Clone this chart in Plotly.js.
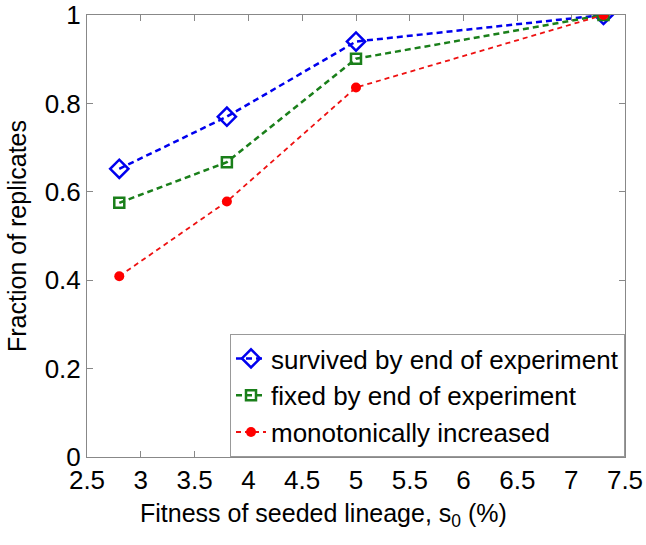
<!DOCTYPE html>
<html>
<head>
<meta charset="utf-8">
<script src="https://cdn.plot.ly/plotly-3.0.1.min.js"></script>
<style>html,body{margin:0;padding:0;background:#fff}</style>
</head>
<body>
<div id="plot" style="width:646px;height:545px"></div>
<script>
var fitness = [2.8, 3.8, 5.0, 7.3];
var survived = [0.652, 0.770, 0.940, 1.0];
var fixed = [0.575, 0.667, 0.901, 1.0];
var monotonic = [0.409, 0.578, 0.836, 1.0];

var yticks = [0, 0.2, 0.4, 0.6, 0.8, 1];
var yticklabels = ['0', '0.2', '0.4', '0.6', '0.8', '1'];

var Survived = {
  name: 'survived by end of experiment',
  x: fitness,
  y: survived,
  type: 'scatter',
  mode: 'lines+markers',
  line: {color: '#0000ee', width: 2.5, dash: '6px,4px'},
  marker: {symbol: 'diamond-open', size: 14, color: '#0000ee', line: {width: 2.5, color: '#0000ee'}}
};

var Fixed = {
  name: 'fixed by end of experiment',
  x: fitness,
  y: fixed,
  type: 'scatter',
  mode: 'lines+markers',
  line: {color: '#1a7f1a', width: 2.5, dash: '6px,4px'},
  marker: {symbol: 'square-open', size: 10, color: '#1a7f1a', line: {width: 2.5, color: '#1a7f1a'}}
};

var Monotonic = {
  name: 'monotonically increased',
  x: fitness,
  y: monotonic,
  type: 'scatter',
  mode: 'lines+markers',
  line: {color: '#ee1111', width: 1.8, dash: '5px,4px'},
  marker: {symbol: 'circle', size: 10, color: '#ff0000'}
};

var data = [Survived, Fixed, Monotonic];

var layout = {
  width: 646,
  height: 545,
  margin: {l: 87, r: 21, t: 15, b: 88},
  paper_bgcolor: '#fff',
  plot_bgcolor: '#fff',
  font: {family: 'Liberation Sans, Arial, sans-serif', color: '#000'},
  showlegend: true,
  legend: {
    x: 1, y: 0, xanchor: 'right', yanchor: 'bottom',
    bordercolor: '#999', borderwidth: 1, bgcolor: '#fff',
    font: {size: 26},
    tracegroupgap: 0,
    itemwidth: 30
  },
  xaxis: {
    range: [2.5, 7.5],
    dtick: 0.5,
    tick0: 2.5,
    ticks: 'inside',
    ticklen: 6,
    tickcolor: '#888',
    showline: true,
    linecolor: '#888',
    mirror: 'ticks',
    showgrid: false,
    zeroline: false,
    ticklabeloverflow: 'allow',
    tickfont: {size: 26}
  },
  yaxis: {
    range: [0, 1],
    tickvals: yticks,
    ticktext: yticklabels,
    ticks: 'inside',
    ticklen: 6,
    tickcolor: '#888',
    showline: true,
    linecolor: '#888',
    mirror: 'ticks',
    showgrid: false,
    zeroline: false,
    ticklabeloverflow: 'allow',
    tickfont: {size: 26},
    title: {text: 'Fraction of replicates', font: {size: 25}, standoff: 10}
  },
  annotations: [{
    text: 'Fitness of seeded lineage, s<sub>0</sub> (%)',
    xref: 'paper', yref: 'paper',
    x: 0.44, y: -0.09,
    xanchor: 'center', yanchor: 'top',
    showarrow: false,
    font: {size: 25}
  }]
};

Plotly.newPlot('plot', data, layout, {displayModeBar: false});
</script>
</body>
</html>
